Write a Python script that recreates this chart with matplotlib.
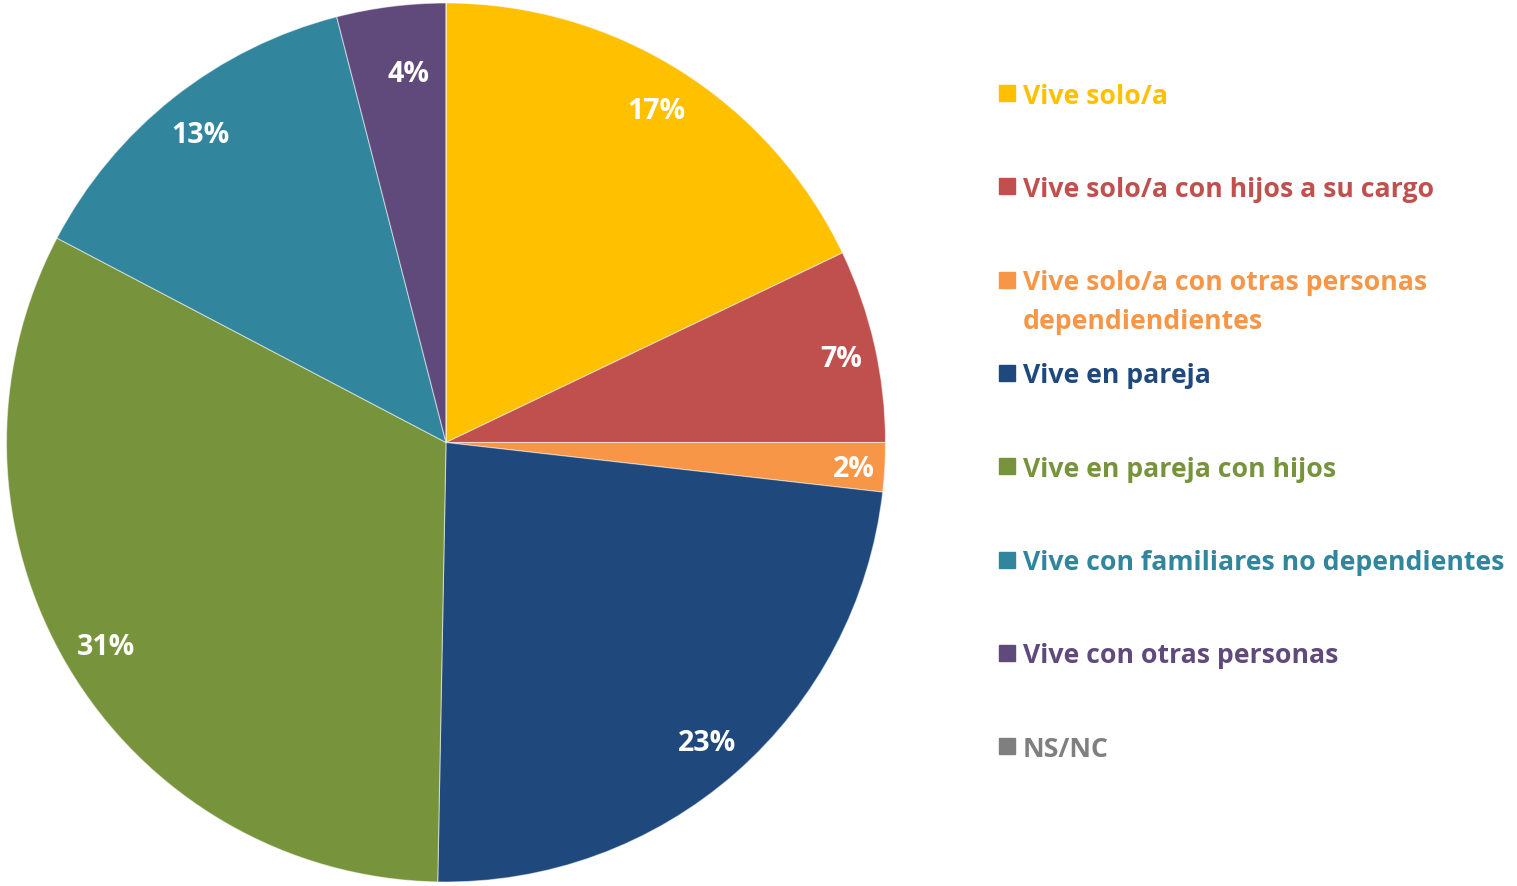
import matplotlib
matplotlib.use('Agg')
import numpy as np
import matplotlib.pyplot as plt
from matplotlib.patches import Rectangle

categories = ['Vive solo/a',
              'Vive solo/a con hijos a su cargo',
              'Vive solo/a con otras personas\ndependiendientes',
              'Vive en pareja',
              'Vive en pareja con hijos',
              'Vive con familiares no dependientes',
              'Vive con otras personas',
              'NS/NC']
values = [17.9, 7.1, 1.8, 23.5, 32.4, 13.3, 4.0, 0.0]
pct_labels = ['17%', '7%', '2%', '23%', '31%', '13%', '4%', '']
colors = ['#FFC000', '#C0504D', '#F79646', '#1F497D',
          '#77933C', '#31859C', '#604A7B', '#7F7F7F']
# label placement: radius (fraction) and small angle nudge (deg)
label_r = [0.90, 0.92, 0.93, 0.90, 0.90, 0.90, 0.85, 0.9]
label_nudge = [0, -0.4, 0, 0, 0, 0, -1.4, 0]

W, H = 1517, 887
fig = plt.figure(figsize=(W / 100, H / 100), dpi=100)
cx, cy, r = 446, 443.5, 439.5
ax = fig.add_axes([(cx - r) / W, (H - cy - r) / H, 2 * r / W, 2 * r / H])

wedges, _ = ax.pie(values, colors=colors, startangle=90, counterclock=False,
                   radius=1, wedgeprops=dict(edgecolor=(1, 1, 1, 0.5), linewidth=0.8))
ax.set_xlim(-1, 1)
ax.set_ylim(-1, 1)
ax.set_aspect('equal')
ax.axis('off')

font = 'Open Sans'
for w, txt, rr, dn in zip(wedges, pct_labels, label_r, label_nudge):
    if not txt:
        continue
    mid = np.deg2rad((w.theta1 + w.theta2) / 2 + dn)
    ax.annotate(txt, xy=(rr * np.cos(mid), rr * np.sin(mid)), xytext=(0, -7.2),
                textcoords='offset points', ha='center', va='baseline',
                color='white', fontsize=20.5, fontweight='bold', family=font)

# legend drawn by hand so rows stay evenly spaced
y0, step, line_h = 94, 93.3, 39
for i, (name, c) in enumerate(zip(categories, colors)):
    y = y0 + i * step
    fig.patches.append(Rectangle((999 / W, 1 - (y + 8) / H), 16 / W, 16 / H,
                                 transform=fig.transFigure, color=c))
    for k, line in enumerate(name.split('\n')):
        fig.text(1023 / W, 1 - (y + 9.5 + k * line_h) / H, line, ha='left',
                 va='baseline', color=c, fontsize=19.2, fontweight='bold', family=font)

fig.savefig('out.png', dpi=100)
